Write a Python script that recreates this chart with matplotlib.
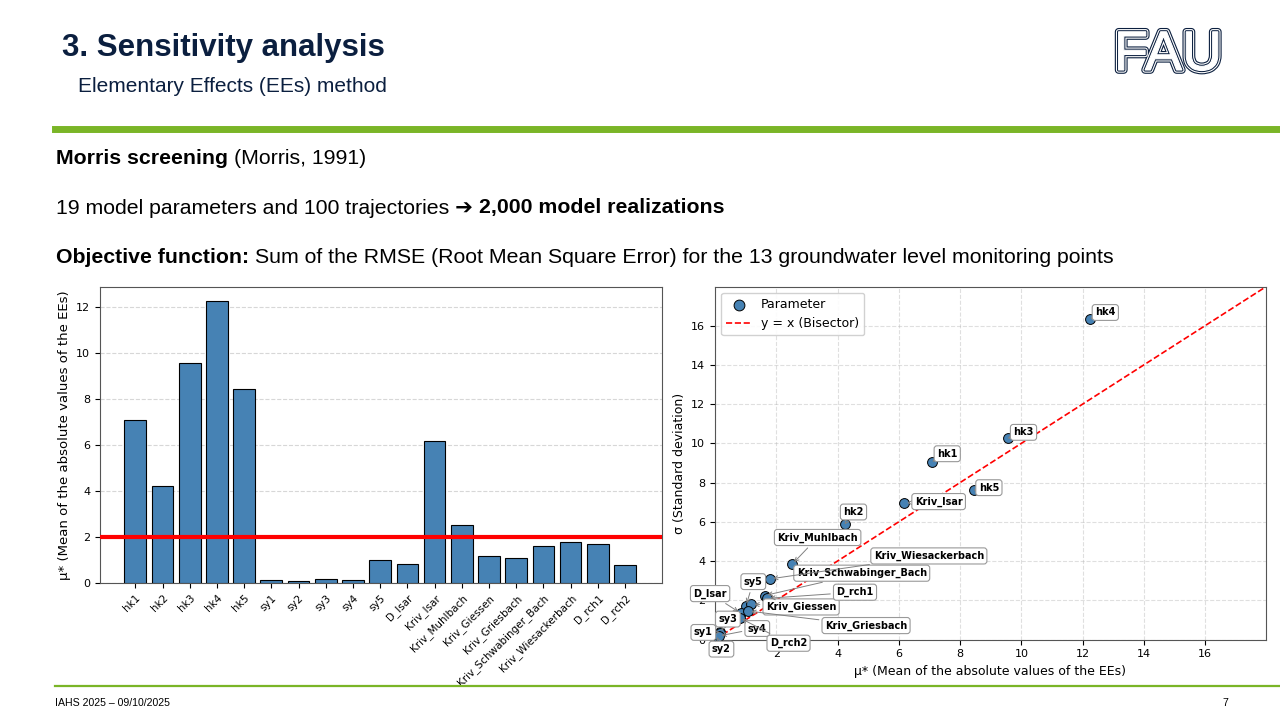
import numpy as np
import matplotlib
matplotlib.use("Agg")
import matplotlib.pyplot as plt
import matplotlib.patheffects as pe

# Morris screening results
params = ['hk1', 'hk2', 'hk3', 'hk4', 'hk5', 'sy1', 'sy2', 'sy3', 'sy4', 'sy5',
          'D_Isar', 'Kriv_Isar', 'Kriv_Muhlbach', 'Kriv_Giessen', 'Kriv_Griesbach',
          'Kriv_Schwabinger_Bach', 'Kriv_Wiesackerbach', 'D_rch1', 'D_rch2']
mu_star = [7.09, 4.23, 9.55, 12.25, 8.44, 0.15, 0.07, 0.17, 0.12, 1.01,
           0.84, 6.18, 2.52, 1.19, 1.09, 1.62, 1.80, 1.71, 0.80]
sigma = [9.07, 5.87, 10.25, 16.35, 7.61, 0.37, 0.12, 0.33, 0.18, 1.71,
         1.34, 6.96, 3.84, 1.80, 1.45, 2.24, 3.09, 2.10, 1.11]
threshold = 2.0

# label positions in the scatter (data coords, as placed on the slide)
label_pos = {
    'hk4': (12.74, 16.67), 'hk3': (10.07, 10.56), 'hk1': (7.58, 9.47),
    'hk5': (8.94, 7.74), 'Kriv_Isar': (7.30, 7.03), 'hk2': (4.52, 6.50),
    'Kriv_Muhlbach': (3.35, 5.20), 'Kriv_Wiesackerbach': (6.98, 4.26),
    'Kriv_Schwabinger_Bach': (4.79, 3.38), 'D_rch1': (4.57, 2.41),
    'Kriv_Giessen': (2.81, 1.66), 'Kriv_Griesbach': (4.93, 0.71),
    'sy5': (1.25, 2.95), 'D_Isar': (-0.16, 2.34), 'sy3': (0.42, 1.04),
    'sy4': (1.38, 0.56), 'sy1': (-0.38, 0.36), 'sy2': (0.21, -0.49),
    'D_rch2': (2.40, -0.19),
}

NAVY = '#0b1f3f'
GREEN = '#7ab527'
FONT = ['Liberation Sans', 'DejaVu Sans']

fig = plt.figure(figsize=(12.8, 7.2), dpi=100)


def px(x, y):
    # slide pixel -> figure fraction
    return x / 1280, 1 - y / 720


def text_runs(x, y, parts, size):
    r = fig.canvas.get_renderer()
    fx, fy = px(x, y)
    for s, w in parts:
        t = fig.text(fx, fy, s, fontsize=size, fontweight=w, family=FONT,
                     va='center', ha='left', color='black')
        bb = t.get_window_extent(r)
        fx = bb.x1 / fig.bbox.width


# header
fig.text(*px(62, 48), '3. Sensitivity analysis', fontsize=22.5, fontweight='bold',
         family=FONT, color=NAVY, va='center')
fig.text(*px(78, 86), 'Elementary Effects (EEs) method', fontsize=15,
         family=FONT, color=NAVY, va='center')
logo = fig.text(*px(1168, 56), 'FAU', fontsize=40, family=FONT, color='white',
                ha='center', va='center')
logo.set_path_effects([pe.Stroke(linewidth=5.5, foreground=NAVY),
                       pe.Stroke(linewidth=3.9, foreground='white'),
                       pe.Stroke(linewidth=2.3, foreground=NAVY),
                       pe.Stroke(linewidth=0.8, foreground='white')])

fig.add_artist(plt.Line2D([55 / 1280, 1], [1 - 129 / 720] * 2, color=GREEN, lw=5))
fig.add_artist(plt.Line2D([55 / 1280, 1], [1 - 686 / 720] * 2, color=GREEN, lw=1.6))

text_runs(56, 159, [('Morris screening ', 'bold'), ('(Morris, 1991)', 'normal')], 15.3)
text_runs(56, 208, [('19 model parameters and 100 trajectories \u2794 ', 'normal'),
                    ('2,000 model realizations', 'bold')], 15.3)
text_runs(56, 257, [('Objective function: ', 'bold'),
                    ('Sum of the RMSE (Root Mean Square Error) for the 13 groundwater level monitoring points',
                     'normal')], 15.3)

fig.text(*px(55, 703), 'IAHS 2025 \u2013 09/10/2025', fontsize=7.6, family=FONT, va='center')
fig.text(*px(1222, 703), '7', fontsize=7.6, family=FONT, va='center')

# bar chart of mu*
ax1 = fig.add_axes([100 / 1280, 1 - 583 / 720, 562 / 1280, 296 / 720])
x = np.arange(len(params))
ax1.bar(x, mu_star, width=0.8, color='steelblue', edgecolor='black', linewidth=0.8, zorder=3)
ax1.axhline(threshold, color='red', lw=3, zorder=4)
ax1.set_xlim(-1.3, len(params) - 1 + 1.36)
ax1.set_ylim(0, max(mu_star) * 1.05)
ax1.set_xticks(x)
ax1.set_xticklabels(params, rotation=45, ha='right', fontsize=7.5, rotation_mode='anchor')
ax1.tick_params(axis='y', labelsize=8)
ax1.set_ylabel('\u03bc* (Mean of the absolute values of the EEs)', fontsize=9.5)
ax1.grid(axis='y', linestyle='--', alpha=0.5, zorder=0)
for s in ax1.spines.values():
    s.set_color('#555555')

# mu* vs sigma scatter
ax2 = fig.add_axes([715 / 1280, 1 - 639.5 / 720, 551 / 1280, 352.8 / 720])
ax2.scatter(mu_star, sigma, s=50, color='steelblue', edgecolor='black', linewidth=0.7,
            zorder=3, label='Parameter')
lim = max(max(mu_star), max(sigma)) * 1.1
ax2.plot([0, lim], [0, lim], 'r--', lw=1.2, label='y = x (Bisector)', zorder=2)
ax2.set_xlim(0, lim)
ax2.set_ylim(0, lim)
ax2.set_xticks(np.arange(0, 17, 2))
ax2.set_yticks(np.arange(0, 17, 2))
ax2.tick_params(labelsize=8)
ax2.set_xlabel('\u03bc* (Mean of the absolute values of the EEs)', fontsize=9)
ax2.set_ylabel('\u03c3 (Standard deviation)', fontsize=9)
ax2.grid(True, linestyle='--', alpha=0.4, zorder=0)
for s in ax2.spines.values():
    s.set_color('#555555')
for name, m, sd in zip(params, mu_star, sigma):
    tx, ty = label_pos[name]
    ax2.annotate(name, xy=(m, sd), xytext=(tx, ty), fontsize=7, fontweight='bold',
                 ha='center', va='center', zorder=5, annotation_clip=False,
                 bbox=dict(boxstyle='round,pad=0.3', fc='white', ec='#999999', lw=0.8),
                 arrowprops=dict(arrowstyle='->', color='gray', lw=0.7))
ax2.legend(loc='upper left', fontsize=9, framealpha=0.9, markerscale=1.1)

fig.savefig('out.png', dpi=100)
